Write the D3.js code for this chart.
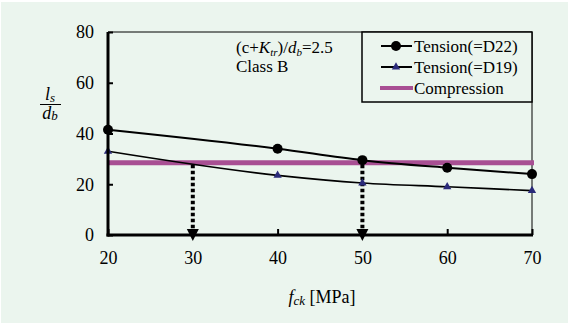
<!DOCTYPE html>
<html>
<head>
<meta charset="utf-8">
<script src="https://cdn.jsdelivr.net/npm/d3@7"></script>
<style>
  body{margin:0;background:#fff;}
  svg{display:block;}
  svg text{font-family:"Times New Roman","Liberation Serif",Times,serif;}
</style>
</head>
<body>
<svg id="chart" width="568" height="323"></svg>
<script>
var fck = [20, 40, 50, 60, 70];
var tensionD22 = [41.5, 34, 29.5, 26.5, 24];
var tensionD19 = [33, 23.5, 20.5, 19, 17.5];
var compression = 28.5;
var arrowsAt = [30, 50];
var xTicks = [20, 30, 40, 50, 60, 70];
var yTicks = [0, 20, 40, 60, 80];

var svg = d3.select("#chart");
var pLeft = 108, pRight = 532, pTop = 32, pBottom = 235;

svg.append("rect").attr("x",1).attr("y",2).attr("width",567).attr("height",321).attr("fill","#ebf5ee");

var x = d3.scaleLinear().domain([20,70]).range([pLeft,pRight]);
var y = d3.scaleLinear().domain([0,80]).range([pBottom,pTop]);

// frame top/right thin
svg.append("path")
  .attr("d","M"+pLeft+","+pTop+"H"+pRight+"V"+pBottom)
  .attr("fill","none").attr("stroke","#000").attr("stroke-width",1);

// compression line
svg.append("line")
  .attr("x1",x(20)).attr("x2",x(70)+2)
  .attr("y1",y(compression)).attr("y2",y(compression))
  .attr("stroke","#a84f93").attr("stroke-width",5);

// dotted arrows
arrowsAt.forEach(function(v){
  svg.append("line")
    .attr("x1",x(v)).attr("x2",x(v))
    .attr("y1",y(compression)+2).attr("y2",y(0)-2)
    .attr("stroke","#000").attr("stroke-width",4)
    .attr("stroke-dasharray","3.5,2.5");
  svg.append("path")
    .attr("d","M"+(x(v)-6)+","+(y(0)-6)+"L"+(x(v)+6)+","+(y(0)-6)+"L"+x(v)+","+(y(0)+6)+"Z")
    .attr("fill","#000");
});

var line = d3.line().x(function(d){return x(d[0]);}).y(function(d){return y(d[1]);}).curve(d3.curveMonotoneX);
var d22 = fck.map(function(f,i){return [f,tensionD22[i]];});
var d19 = fck.map(function(f,i){return [f,tensionD19[i]];});

svg.append("path").attr("d",line(d22)).attr("fill","none").attr("stroke","#000").attr("stroke-width",2);
svg.append("path").attr("d",line(d19)).attr("fill","none").attr("stroke","#000").attr("stroke-width",1.6);

svg.selectAll(".c22").data(d22).enter().append("circle")
  .attr("cx",function(d){return x(d[0]);}).attr("cy",function(d){return y(d[1]);})
  .attr("r",5).attr("fill","#000");
var tri = d3.symbol().type(d3.symbolTriangle).size(30);
svg.selectAll(".t19").data(d19).enter().append("path")
  .attr("d",tri)
  .attr("transform",function(d){return "translate("+x(d[0])+","+y(d[1])+")";})
  .attr("fill","#2a2a7a");

// axes
var yAxis = d3.axisLeft(y).tickValues(yTicks).tickSize(-5).tickPadding(14);
var gy = svg.append("g").attr("transform","translate("+pLeft+",0)").call(yAxis);
var xAxis = d3.axisBottom(x).tickValues(xTicks).tickSize(-6).tickPadding(16);
var gx = svg.append("g").attr("transform","translate(0,"+pBottom+")").call(xAxis);
[gx,gy].forEach(function(g){
  g.attr("font-family",null);
  g.select(".domain").attr("stroke-width",3).attr("stroke","#000");
  g.selectAll(".tick line").attr("stroke-width",2).attr("stroke","#000");
  g.selectAll("text").attr("font-size",18).attr("fill","#000");
});
gy.select(".domain").attr("d","M0,"+pTop+"V"+(pBottom+1.5));
gx.select(".domain").attr("d","M"+(pLeft-1.5)+",0H"+(pRight+1));

// y label as fraction
var yl = svg.append("g").attr("font-size",18).attr("font-style","italic").attr("text-anchor","middle");
yl.append("text").attr("x",50).attr("y",100).html("l<tspan font-size='13' dy='2'>s</tspan>");
yl.append("line").attr("x1",40).attr("x2",61).attr("y1",104.5).attr("y2",104.5).attr("stroke","#000").attr("stroke-width",1);
yl.append("text").attr("x",50).attr("y",119).html("d<tspan font-size='13' dy='1'>b</tspan>");

// x label
var xl = svg.append("text").attr("x",322).attr("y",303).attr("text-anchor","middle").attr("font-size",18);
xl.append("tspan").attr("font-style","italic").text("f");
xl.append("tspan").attr("font-style","italic").attr("font-size",13).attr("dy",2).text("ck");
xl.append("tspan").attr("dy",-2).text(" [MPa]");

// annotation
var an = svg.append("text").attr("x",236).attr("y",53).attr("font-size",17);
an.append("tspan").text("(c+");
an.append("tspan").attr("font-style","italic").text("K");
an.append("tspan").attr("font-style","italic").attr("font-size",11).attr("dy",3).text("tr");
an.append("tspan").attr("dy",-3).text(")/");
an.append("tspan").attr("font-style","italic").text("d");
an.append("tspan").attr("font-style","italic").attr("font-size",11).attr("dy",3).text("b");
an.append("tspan").attr("dy",-3).text("=2.5");
svg.append("text").attr("x",236).attr("y",72).attr("font-size",17).text("Class B");

// legend
var lg = svg.append("g");
lg.append("rect").attr("x",362).attr("y",32).attr("width",170).attr("height",70)
  .attr("fill","#ebf5ee").attr("stroke","#000").attr("stroke-width",1.5);
var items = [
  {name:"Tension(=D22)", kind:"circle"},
  {name:"Tension(=D19)", kind:"tri"},
  {name:"Compression", kind:"comp"}
];
items.forEach(function(it,i){
  var yy = 46 + i*21;
  if(it.kind=="comp"){
    lg.append("line").attr("x1",380).attr("x2",413).attr("y1",yy).attr("y2",yy).attr("stroke","#a84f93").attr("stroke-width",4);
  } else {
    lg.append("line").attr("x1",381).attr("x2",412).attr("y1",yy).attr("y2",yy).attr("stroke","#000").attr("stroke-width",2);
    if(it.kind=="circle") lg.append("circle").attr("cx",396).attr("cy",yy).attr("r",5).attr("fill","#000");
    else lg.append("path").attr("d",tri).attr("transform","translate(396,"+yy+")").attr("fill","#2a2a7a");
  }
  lg.append("text").attr("x",414).attr("y",yy+5.5).attr("font-size",17).text(it.name);
});
</script>
</body>
</html>
